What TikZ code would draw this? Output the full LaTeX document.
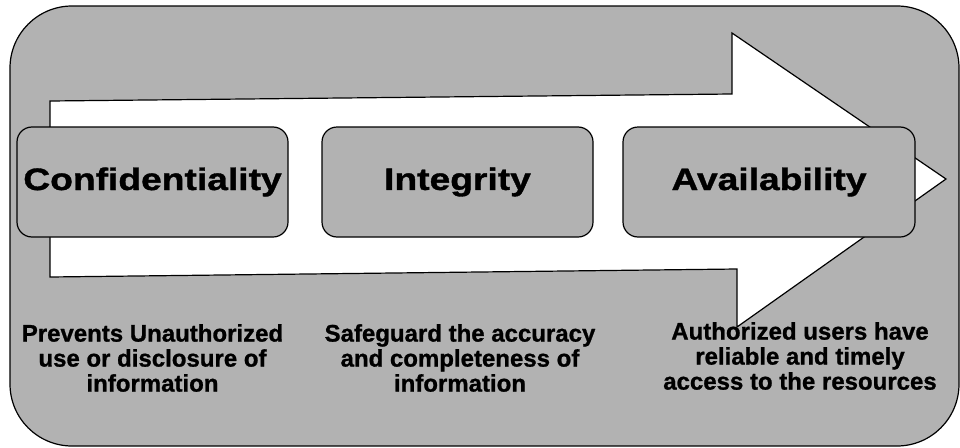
\documentclass[tikz,border=0pt]{standalone}
\usepackage{fontspec}
\setmainfont{Liberation Sans}
\newfontfamily\headfont[FakeStretch=1.2, FakeBold=1.2]{Liberation Sans}
\newfontfamily\notefont[FakeBold=1]{Liberation Sans}
\usetikzlibrary{positioning}

\tikzset{
	pillar/.style={draw, fill=black!30, rounded corners=15pt, line width=1.2pt,
		minimum height=110pt, inner sep=0pt,
		font=\headfont\bfseries\fontsize{31}{31}\selectfont},
	note/.style={align=center, inner sep=0pt, anchor=north,
		font=\notefont\bfseries\fontsize{24}{25}\selectfont}
}

\begin{document}
\begin{tikzpicture}[x=1pt, y=-1pt, line join=miter]
	\useasboundingbox (0,0) rectangle (960,447);
	% grey panel behind everything
	\draw[fill=black!30, line width=1.2pt, rounded corners=62pt] (10,6) rectangle (959,446);
	% big white arrow
	\draw[fill=white, line width=1.2pt] (50,101) -- (732,94) -- (732,33) -- (946,179)
		-- (737,327) -- (737,269) -- (50,277) -- cycle;
	% the three boxes on the arrow
	\foreach \nm/\cx/\bw/\txt in {conf/152.5/271/Confidentiality, integ/457.5/271/Integrity, avail/769/292/Availability}
	{
		\node[pillar, minimum width=\bw pt] (\nm) at (\cx,182) {\txt};
	}
	% descriptions underneath
	\node[note] (confnote) at (152.5,324) {Prevents Unauthorized\\use or disclosure of\\information};
	\node[note] (integnote) at (460,324) {Safeguard the accuracy\\and completeness of\\information};
	\node[note] (availnote) at (800,322) {Authorized users have\\reliable and timely\\access to the resources};
\end{tikzpicture}
\end{document}
